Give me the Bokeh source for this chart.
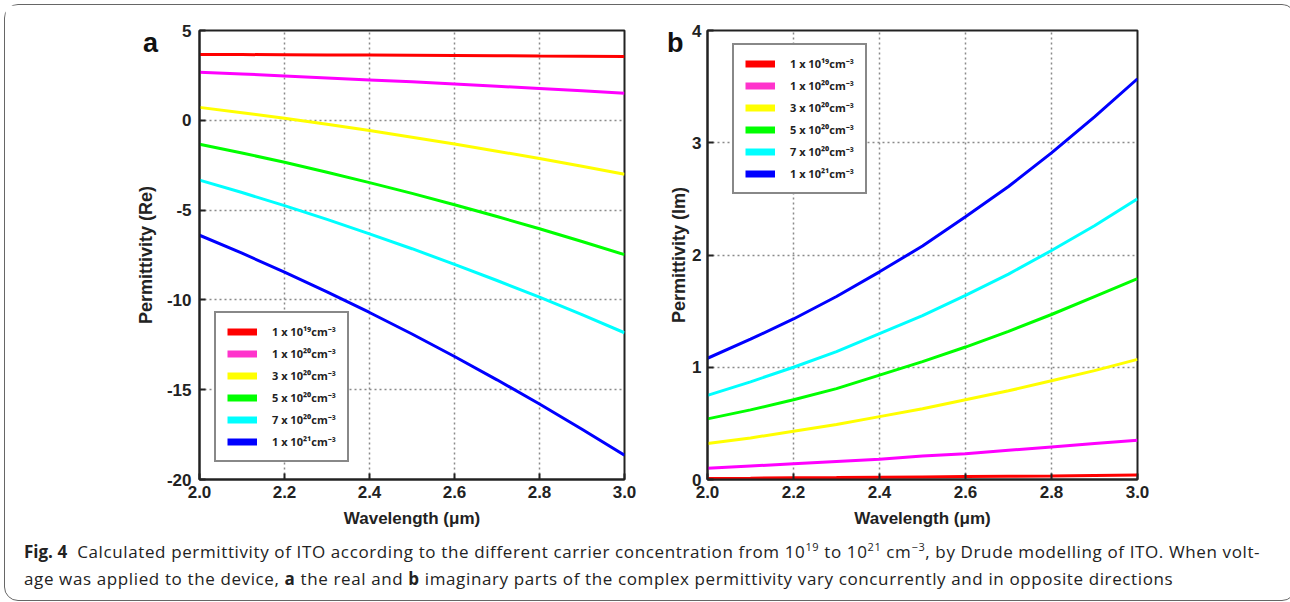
from bokeh.plotting import figure
from bokeh.models import Legend, LegendItem, Div, Range1d, FixedTicker, PrintfTickFormatter
from bokeh.layouts import column, row
from bokeh.embed import file_html
from bokeh.resources import INLINE

wavelength = [2.0, 2.1, 2.2, 2.3, 2.4, 2.5, 2.6, 2.7, 2.8, 2.9, 3.0]
labels = ["1 x 10¹⁹cm⁻³", "1 x 10²⁰cm⁻³", "3 x 10²⁰cm⁻³",
          "5 x 10²⁰cm⁻³", "7 x 10²⁰cm⁻³", "1 x 10²¹cm⁻³"]
colors = ["#ff0000", "#ff00ff", "#ffff00", "#00ff00", "#00ffff", "#0000ff"]
legend_colors = ["#ff0000", "#ff33cc", "#ffff00", "#00ff00", "#00ffff", "#0000ff"]

re_1e19 = [3.67, 3.66, 3.65, 3.64, 3.63, 3.62, 3.61, 3.60, 3.58, 3.57, 3.55]
re_1e20 = [2.68, 2.58, 2.47, 2.36, 2.25, 2.14, 2.02, 1.90, 1.77, 1.64, 1.51]
re_3e20 = [0.72, 0.42, 0.11, -0.22, -0.57, -0.94, -1.32, -1.72, -2.13, -2.56, -3.00]
re_5e20 = [-1.33, -1.82, -2.34, -2.89, -3.47, -4.07, -4.70, -5.36, -6.04, -6.75, -7.48]
re_7e20 = [-3.33, -4.02, -4.75, -5.52, -6.32, -7.15, -8.02, -8.92, -9.85, -10.82, -11.83]
re_1e21 = [-6.40, -7.40, -8.45, -9.55, -10.70, -11.90, -13.15, -14.45, -15.80, -17.20, -18.65]

im_1e19 = [0.010, 0.012, 0.015, 0.017, 0.020, 0.023, 0.026, 0.029, 0.032, 0.036, 0.040]
im_1e20 = [0.10, 0.12, 0.14, 0.16, 0.18, 0.21, 0.23, 0.26, 0.29, 0.32, 0.35]
im_3e20 = [0.32, 0.37, 0.43, 0.49, 0.56, 0.63, 0.71, 0.79, 0.88, 0.97, 1.07]
im_5e20 = [0.54, 0.62, 0.71, 0.81, 0.93, 1.05, 1.18, 1.32, 1.47, 1.63, 1.79]
im_7e20 = [0.75, 0.87, 1.00, 1.14, 1.30, 1.46, 1.64, 1.83, 2.04, 2.26, 2.50]
im_1e21 = [1.08, 1.25, 1.43, 1.63, 1.85, 2.08, 2.34, 2.61, 2.91, 3.23, 3.57]

x_ticks = [2.0, 2.2, 2.4, 2.6, 2.8, 3.0]
re_ticks = [-20, -15, -10, -5, 0, 5]
im_ticks = [0, 1, 2, 3, 4]

FONT = "Liberation Sans"


def style_axis(ax, ticks, fmt, label_size):
    ax.ticker = FixedTicker(ticks=ticks)
    ax.formatter = PrintfTickFormatter(format=fmt)
    ax.axis_line_width = 2
    ax.axis_line_color = "#222222"
    ax.major_tick_in = 6
    ax.major_tick_out = 0
    ax.major_tick_line_width = 2
    ax.major_tick_line_color = "#222222"
    ax.minor_tick_line_color = None
    ax.major_label_text_font = FONT
    ax.major_label_text_font_style = "bold"
    ax.major_label_text_font_size = "17px"
    ax.major_label_text_color = "#222222"
    ax.axis_label_text_font = FONT
    ax.axis_label_text_font_style = "bold"
    ax.axis_label_text_font_size = label_size
    ax.axis_label_text_color = "#222222"


def make_panel(series, yr, yticks, ylabel, width, border_left, border_right,
               legend_loc, ylabel_standoff, ytick_standoff):
    p = figure(width=width, height=529, x_range=Range1d(2.0, 3.0), y_range=Range1d(*yr),
               output_backend="svg", toolbar_location=None,
               min_border_left=border_left, min_border_right=border_right,
               min_border_top=25, min_border_bottom=55,
               x_axis_label="Wavelength (μm)", y_axis_label=ylabel)
    p.outline_line_color = "#222222"
    p.outline_line_width = 2
    p.background_fill_color = "white"
    p.border_fill_color = "white"
    style_axis(p.xaxis[0], x_ticks, "%.1f", "17px")
    style_axis(p.yaxis[0], yticks, "%d", "18px")
    p.xaxis[0].major_label_standoff = 6
    p.xaxis[0].axis_label_standoff = 8
    p.yaxis[0].major_label_standoff = ytick_standoff
    p.yaxis[0].axis_label_standoff = ylabel_standoff

    p.xgrid.ticker = FixedTicker(ticks=x_ticks)
    p.ygrid.ticker = FixedTicker(ticks=yticks)
    for g in (p.xgrid, p.ygrid):
        g.grid_line_color = "#8a8a8a"
        g.grid_line_dash = "2 3"
        g.grid_line_width = 1.5

    items = []
    for ys, c, lc, lab in zip(series, colors, legend_colors, labels):
        p.line(wavelength, ys, line_width=3, color=c)
        swatch = p.line(wavelength, ys, line_width=7, color=lc, visible=False)
        items.append(LegendItem(label=lab, renderers=[swatch]))
    leg = Legend(items=items, location=legend_loc,
                 glyph_width=30, glyph_height=13, label_height=13,
                 label_standoff=15, spacing=7, padding=11,
                 label_text_font="Open Sans", label_text_font_style="bold",
                 label_text_font_size="11px", label_text_color="#222222",
                 border_line_color="#111111", border_line_width=2.5,
                 background_fill_color="white", background_fill_alpha=1.0,
                 click_policy="none")
    p.add_layout(leg)
    return p


pa = make_panel([re_1e19, re_1e20, re_3e20, re_5e20, re_7e20, re_1e21],
                (-20, 5), re_ticks, "Permittivity (Re)", 655, 194, 36,
                (15, 17), 8, 8)
pb = make_panel([im_1e19, im_1e20, im_3e20, im_5e20, im_7e20, im_1e21],
                (0, 4), im_ticks, "Permittivity (Im)", 625, 47, 148,
                (25, 285), 0, 6)

letter_style = {"position": "absolute", "font-family": FONT, "font-weight": "bold",
                "font-size": "27px", "line-height": "27px", "color": "#111111"}
letter_a = Div(text="a", width=30, height=30,
               styles=dict(letter_style, left="133px", top="20px"))
letter_b = Div(text="b", width=30, height=30,
               styles=dict(letter_style, left="657px", top="20px"))

caption = Div(
    text=('<div style="font-family:\'Open Sans\';font-size:17px;line-height:27px;'
          'color:#222;white-space:nowrap;padding-left:14px;margin-top:-6px;letter-spacing:0.62px;">'
          '<b style="font-size:17px;letter-spacing:0;">Fig. 4</b>&nbsp;&nbsp;Calculated permittivity of ITO according to '
          'the different carrier concentration from 10<sup style="font-size:11px;">19</sup> to '
          '10<sup style="font-size:11px;">21</sup> cm<sup style="font-size:11px;">&minus;3</sup>, '
          'by Drude modelling of ITO. When volt-<br>'
          'age was applied to the device, <b>a</b> the real and <b>b</b> imaginary parts of '
          'the complex permittivity vary concurrently and in opposite directions</div>'),
    width=1280, height=56)

layout = column(row(pa, pb), caption, letter_a, letter_b,
                margin=(4, 0, 0, 4),
                styles={"border": "1.5px solid #666", "border-radius": "14px",
                        "position": "relative"})

with open("out.html", "w") as f:
    f.write(file_html(layout, INLINE))
